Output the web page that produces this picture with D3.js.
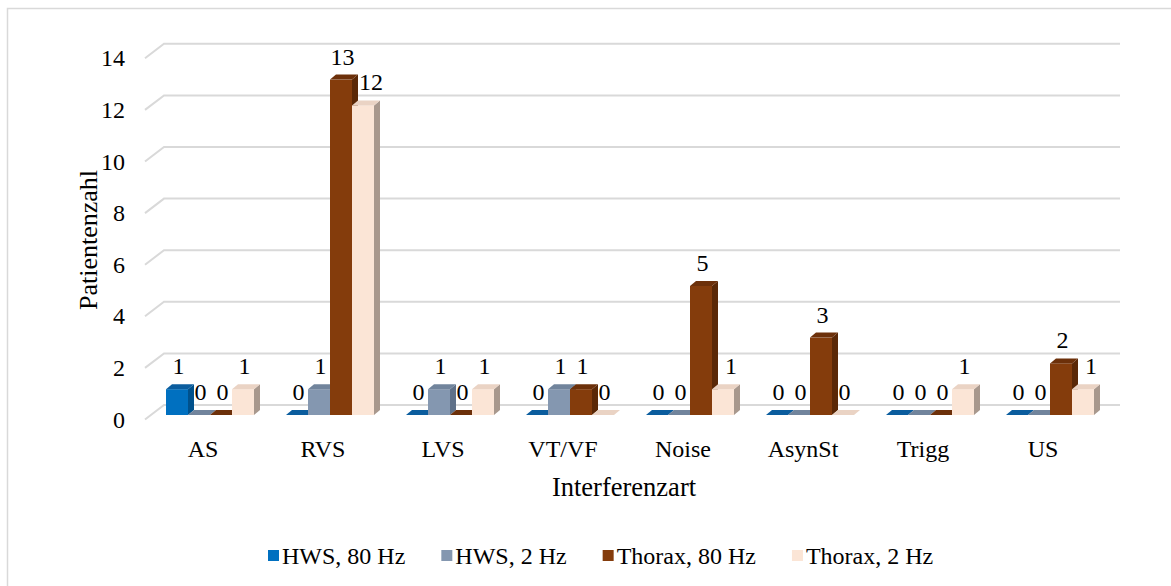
<!DOCTYPE html>
<html><head><meta charset="utf-8">
<script src="https://cdn.jsdelivr.net/npm/d3@7"></script>
<style>
html,body{margin:0;padding:0;background:#fff;}
svg{display:block;font-family:"Liberation Serif","Times New Roman",serif;}
</style></head>
<body>
<svg id="chart" width="1171" height="586"></svg>
<script>
const categories = ["AS","RVS","LVS","VT/VF","Noise","AsynSt","Trigg","US"];
const seriesNames = ["HWS, 80 Hz","HWS, 2 Hz","Thorax, 80 Hz","Thorax, 2 Hz"];
const hws80 =    [1, 0, 0, 0, 0, 0, 0, 0];
const hws2 =     [0, 1, 1, 1, 0, 0, 0, 0];
const thorax80 = [0,13, 0, 1, 5, 3, 0, 2];
const thorax2 =  [1,12, 1, 0, 1, 0, 1, 1];
const yTicks = [0,2,4,6,8,10,12,14];
const xTitle = "Interferenzart";
const yTitle = "Patientenzahl";

const seriesValues = [hws80, hws2, thorax80, thorax2];
const frontColors = ["#0070C0","#8497B0","#843C0C","#FBE5D6"];
const topColors   = ["#0b5d9e","#71849c","#6c300a","#ead3c4"];
const sideColors  = ["#00518c","#5f7189","#5a2807","#a8988d"];

const svg = d3.select("#chart");
const W = 1171, H = 586;

// border
svg.append("path").attr("d", `M7.5,${H+2} V8.5 H${W+2}`).attr("fill","none")
  .attr("stroke","#d9d9d9").attr("stroke-width",1.5);

// scales
const x = d3.scaleBand().domain(categories).range([150,1110]).paddingInner(0).paddingOuter(0);
const xs = d3.scaleBand().domain(seriesNames).range([0,88]);
const groupOffset = (x.bandwidth()-88)/2;
const yBar = d3.scaleLinear().domain([0,14]).range([415, 415-25.8*14]);
const yBack = d3.scaleLinear().domain([0,14]).range([405, 405-25.8*14]);
const depthX = 19, depthY = 14.5; // wall perspective
const bdx = 6, bdy = 5; // bar depth

// gridlines on back wall
const grid = svg.append("g");
yTicks.forEach(t => {
  const yb = yBack(t);
  grid.append("path")
    .attr("d", `M${164-depthX},${yb+depthY} L164,${yb} H1120`)
    .attr("fill","none").attr("stroke","#d9d9d9").attr("stroke-width",2);
});

// tick labels
svg.append("g").selectAll("text").data(yTicks).join("text")
  .attr("x",125).attr("y",d => yBack(d)+depthY+8)
  .attr("text-anchor","end").attr("font-size",24).attr("fill","#000")
  .text(d => d);

// bars
const barsG = svg.append("g");
categories.forEach((c,ci) => {
  seriesNames.forEach((s,si) => {
    const v = seriesValues[si][ci];
    const x0 = x(c) + groupOffset + xs(s);
    const x1 = x0 + xs.bandwidth();
    const y0 = yBar(0), yt = yBar(v);
    const g = barsG.append("g");
    g.append("path").attr("d", `M${x1},${y0} L${x1+bdx},${y0-bdy} L${x1+bdx},${yt-bdy} L${x1},${yt} Z`)
      .attr("fill", sideColors[si]);
    if (v > 0) g.append("rect").attr("x",x0).attr("y",yt).attr("width",x1-x0).attr("height",y0-yt)
      .attr("fill", frontColors[si]);
    g.append("path").attr("d", `M${x0},${yt} L${x0+bdx},${yt-bdy} L${x1+bdx},${yt-bdy} L${x1},${yt} Z`)
      .attr("fill", topColors[si]);
  });
});

// data labels (shifted right when the bar to the left is taller, as the original does)
const labelsG = svg.append("g");
categories.forEach((c,ci) => {
  seriesNames.forEach((s,si) => {
    const v = seriesValues[si][ci];
    const prev = si > 0 ? seriesValues[si-1][ci] : -1;
    const shift = (prev > v && v > 0) ? 8 : 1.5;
    const cx = x(c) + groupOffset + xs(s) + xs.bandwidth()/2 + shift;
    labelsG.append("text").attr("x",cx).attr("y",yBar(v)-15)
      .attr("text-anchor","middle").attr("font-size",24).attr("fill","#000").text(v);
  });
});

// category labels
svg.append("g").selectAll("text").data(categories).join("text")
  .attr("x", d => x(d)+x.bandwidth()/2-7).attr("y",457)
  .attr("text-anchor","middle").attr("font-size",24).attr("fill","#000").text(d=>d);

// axis titles
svg.append("text").attr("x",624).attr("y",496).attr("text-anchor","middle")
  .attr("font-size",26.5).attr("fill","#000").text(xTitle);
svg.append("text").attr("transform","translate(97,240) rotate(-90)").attr("text-anchor","middle")
  .attr("font-size",26).attr("fill","#000").text(yTitle);

// legend
const leg = svg.append("g");
let lx = 268;
seriesNames.forEach((s,si) => {
  leg.append("rect").attr("x",lx).attr("y",550).attr("width",11).attr("height",11).attr("fill",frontColors[si]);
  const t = leg.append("text").attr("x",lx+14).attr("y",564).attr("font-size",24).attr("fill","#000").text(s);
  lx += 14 + t.node().getComputedTextLength() + 36;
});
</script>
</body></html>
